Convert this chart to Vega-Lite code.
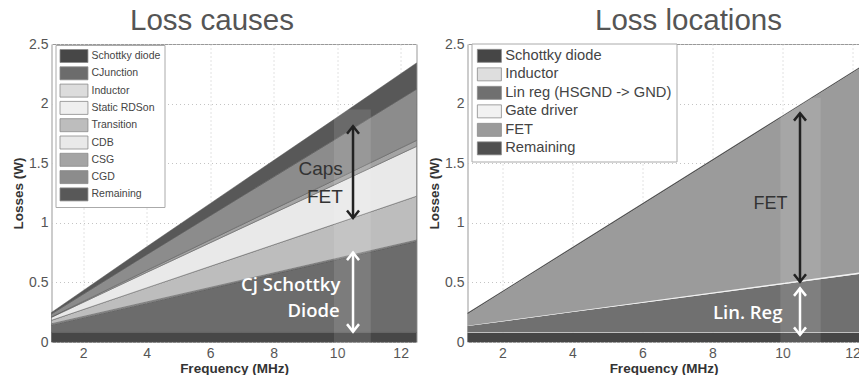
{
  "$schema": "https://vega.github.io/schema/vega-lite/v6.json",
  "background": "white",
  "padding": {"left": 10.5, "top": 5, "right": 0, "bottom": 0},
  "config": {
    "view": {"stroke": "#999", "strokeWidth": 1},
    "axis": {
      "labelFont": "Liberation Sans", "labelFontSize": 14, "labelColor": "#555",
      "titleFont": "Liberation Sans", "titleFontSize": 13.5, "titleFontWeight": "bold", "titleColor": "#333",
      "tickSize": 0, "domain": false, "grid": true, "gridColor": "#c4c4c4", "gridDash": [1, 3], "gridWidth": 1,
      "labelPadding": 3.5, "titlePadding": 3
    },
    "axisX": {"labelPadding": 4, "titlePadding": 1},
    "concat": {"spacing": 8}
  },
  "resolve": {"scale": {"color": "independent", "shape": "independent", "x": "independent", "y": "independent"}, "legend": {"color": "independent"}},
  "datasets": {
    "causes": [
      {"freq": 1, "source": "Schottky diode", "idx": 0, "loss": 0.08},
      {"freq": 1, "source": "CJunction", "idx": 1, "loss": 0.063},
      {"freq": 1, "source": "Inductor", "idx": 2, "loss": 0.004},
      {"freq": 1, "source": "Static RDSon", "idx": 3, "loss": 0.006},
      {"freq": 1, "source": "Transition", "idx": 4, "loss": 0.029},
      {"freq": 1, "source": "CDB", "idx": 5, "loss": 0.025},
      {"freq": 1, "source": "CSG", "idx": 6, "loss": 0.004},
      {"freq": 1, "source": "CGD", "idx": 7, "loss": 0.025},
      {"freq": 1, "source": "Remaining", "idx": 8, "loss": 0.012},
      {"freq": 4, "source": "Schottky diode", "idx": 0, "loss": 0.08},
      {"freq": 4, "source": "CJunction", "idx": 1, "loss": 0.246},
      {"freq": 4, "source": "Inductor", "idx": 2, "loss": 0.004},
      {"freq": 4, "source": "Static RDSon", "idx": 3, "loss": 0.006},
      {"freq": 4, "source": "Transition", "idx": 4, "loss": 0.118},
      {"freq": 4, "source": "CDB", "idx": 5, "loss": 0.13},
      {"freq": 4, "source": "CSG", "idx": 6, "loss": 0.016},
      {"freq": 4, "source": "CGD", "idx": 7, "loss": 0.133},
      {"freq": 4, "source": "Remaining", "idx": 8, "loss": 0.066},
      {"freq": 7, "source": "Schottky diode", "idx": 0, "loss": 0.08},
      {"freq": 7, "source": "CJunction", "idx": 1, "loss": 0.429},
      {"freq": 7, "source": "Inductor", "idx": 2, "loss": 0.004},
      {"freq": 7, "source": "Static RDSon", "idx": 3, "loss": 0.006},
      {"freq": 7, "source": "Transition", "idx": 4, "loss": 0.206},
      {"freq": 7, "source": "CDB", "idx": 5, "loss": 0.232},
      {"freq": 7, "source": "CSG", "idx": 6, "loss": 0.028},
      {"freq": 7, "source": "CGD", "idx": 7, "loss": 0.238},
      {"freq": 7, "source": "Remaining", "idx": 8, "loss": 0.12},
      {"freq": 10, "source": "Schottky diode", "idx": 0, "loss": 0.08},
      {"freq": 10, "source": "CJunction", "idx": 1, "loss": 0.612},
      {"freq": 10, "source": "Inductor", "idx": 2, "loss": 0.004},
      {"freq": 10, "source": "Static RDSon", "idx": 3, "loss": 0.006},
      {"freq": 10, "source": "Transition", "idx": 4, "loss": 0.294},
      {"freq": 10, "source": "CDB", "idx": 5, "loss": 0.333},
      {"freq": 10, "source": "CSG", "idx": 6, "loss": 0.04},
      {"freq": 10, "source": "CGD", "idx": 7, "loss": 0.342},
      {"freq": 10, "source": "Remaining", "idx": 8, "loss": 0.174},
      {"freq": 12.5, "source": "Schottky diode", "idx": 0, "loss": 0.08},
      {"freq": 12.5, "source": "CJunction", "idx": 1, "loss": 0.765},
      {"freq": 12.5, "source": "Inductor", "idx": 2, "loss": 0.004},
      {"freq": 12.5, "source": "Static RDSon", "idx": 3, "loss": 0.006},
      {"freq": 12.5, "source": "Transition", "idx": 4, "loss": 0.368},
      {"freq": 12.5, "source": "CDB", "idx": 5, "loss": 0.418},
      {"freq": 12.5, "source": "CSG", "idx": 6, "loss": 0.05},
      {"freq": 12.5, "source": "CGD", "idx": 7, "loss": 0.43},
      {"freq": 12.5, "source": "Remaining", "idx": 8, "loss": 0.22}
    ],
    "locations": [
      {"freq": 1, "source": "Schottky diode", "idx": 0, "loss": 0.08},
      {"freq": 1, "source": "Inductor", "idx": 1, "loss": 0.003},
      {"freq": 1, "source": "Lin reg (HSGND -> GND)", "idx": 2, "loss": 0.051},
      {"freq": 1, "source": "Gate driver", "idx": 3, "loss": 0.002},
      {"freq": 1, "source": "FET", "idx": 4, "loss": 0.097},
      {"freq": 1, "source": "Remaining", "idx": 5, "loss": 0.012},
      {"freq": 4, "source": "Schottky diode", "idx": 0, "loss": 0.08},
      {"freq": 4, "source": "Inductor", "idx": 1, "loss": 0.003},
      {"freq": 4, "source": "Lin reg (HSGND -> GND)", "idx": 2, "loss": 0.168},
      {"freq": 4, "source": "Gate driver", "idx": 3, "loss": 0.004},
      {"freq": 4, "source": "FET", "idx": 4, "loss": 0.53},
      {"freq": 4, "source": "Remaining", "idx": 5, "loss": 0.012},
      {"freq": 7, "source": "Schottky diode", "idx": 0, "loss": 0.08},
      {"freq": 7, "source": "Inductor", "idx": 1, "loss": 0.003},
      {"freq": 7, "source": "Lin reg (HSGND -> GND)", "idx": 2, "loss": 0.285},
      {"freq": 7, "source": "Gate driver", "idx": 3, "loss": 0.007},
      {"freq": 7, "source": "FET", "idx": 4, "loss": 0.962},
      {"freq": 7, "source": "Remaining", "idx": 5, "loss": 0.012},
      {"freq": 10, "source": "Schottky diode", "idx": 0, "loss": 0.08},
      {"freq": 10, "source": "Inductor", "idx": 1, "loss": 0.003},
      {"freq": 10, "source": "Lin reg (HSGND -> GND)", "idx": 2, "loss": 0.402},
      {"freq": 10, "source": "Gate driver", "idx": 3, "loss": 0.01},
      {"freq": 10, "source": "FET", "idx": 4, "loss": 1.394},
      {"freq": 10, "source": "Remaining", "idx": 5, "loss": 0.012},
      {"freq": 12.2, "source": "Schottky diode", "idx": 0, "loss": 0.08},
      {"freq": 12.2, "source": "Inductor", "idx": 1, "loss": 0.003},
      {"freq": 12.2, "source": "Lin reg (HSGND -> GND)", "idx": 2, "loss": 0.488},
      {"freq": 12.2, "source": "Gate driver", "idx": 3, "loss": 0.012},
      {"freq": 12.2, "source": "FET", "idx": 4, "loss": 1.711},
      {"freq": 12.2, "source": "Remaining", "idx": 5, "loss": 0.012}
    ],
    "bands": [
      {"panel": "causes", "freq": 9.9, "freqEnd": 11.06, "lo": -0.12, "hi": 1.95},
      {"panel": "locations", "freq": 9.94, "freqEnd": 11.09, "lo": -0.12, "hi": 2.05}
    ],
    "arrows": [
      {"panel": "causes", "tone": "dark", "freq": 10.5, "lo": 1.04, "hi": 1.81},
      {"panel": "causes", "tone": "light", "freq": 10.5, "lo": 0.087, "hi": 0.75},
      {"panel": "locations", "tone": "dark", "freq": 10.5, "lo": 0.505, "hi": 1.92},
      {"panel": "locations", "tone": "light", "freq": 10.5, "lo": 0.06, "hi": 0.45}
    ],
    "notes": [
      {"panel": "causes", "tone": "dark", "freq": 10.18, "loss": 1.45, "label": "Caps"},
      {"panel": "causes", "tone": "dark", "freq": 10.18, "loss": 1.22, "label": "FET"},
      {"panel": "causes", "tone": "light", "freq": 10.1, "loss": 0.48, "label": "Cj Schottky"},
      {"panel": "causes", "tone": "light", "freq": 10.08, "loss": 0.26, "label": "Diode"},
      {"panel": "locations", "tone": "dark", "freq": 10.14, "loss": 1.16, "label": "FET"},
      {"panel": "locations", "tone": "light", "freq": 10.0, "loss": 0.24, "label": "Lin. Reg"}
    ]
  },
  "hconcat": [
    {
      "width": 365,
      "height": 298,
      "title": {"text": "Loss causes", "font": "Liberation Sans", "fontSize": 29.5, "fontWeight": "normal", "color": "#555", "dx": -22, "offset": 1},
      "resolve": {"scale": {"shape": "shared"}},
      "layer": [
        {
          "data": {"name": "causes"},
          "mark": {"type": "area", "stroke": "#555", "strokeWidth": 0.5, "opacity": 1},
          "encoding": {
            "x": {"field": "freq", "type": "quantitative", "scale": {"domain": [1, 12.5], "nice": false, "zero": false}, "axis": {"values": [2, 4, 6, 8, 10, 12], "title": "Frequency (MHz)"}},
            "y": {"field": "loss", "type": "quantitative", "stack": "zero", "scale": {"domain": [0, 2.5], "nice": false}, "axis": {"values": [0, 0.5, 1, 1.5, 2, 2.5], "format": "~g", "title": "Losses (W)"}},
            "color": {
              "field": "source", "type": "nominal",
              "scale": {
                "domain": ["Schottky diode", "CJunction", "Inductor", "Static RDSon", "Transition", "CDB", "CSG", "CGD", "Remaining"],
                "range": ["#474747", "#6c6c6c", "#dcdcdc", "#efefef", "#bdbdbd", "#e9e9e9", "#a4a4a4", "#8c8c8c", "#585858"]
              },
              "legend": {
                "title": null, "orient": "none", "legendX": 4, "legendY": 1,
                "symbolType": "M-1,-1H3.3V1H-1Z", "symbolSize": 169,
                "symbolStrokeColor": "#8a8a8a", "symbolStrokeWidth": 0.8, "symbolOpacity": 1,
                "labelFont": "Liberation Sans", "labelFontSize": 10.5, "labelColor": "#444",
                "labelOffset": 18, "rowPadding": -0.7, "padding": 4,
                "strokeColor": "#aaa", "fillColor": "white", "labelLimit": 200
              }
            },
            "order": {"field": "idx", "type": "quantitative", "sort": "ascending"}
          }
        },
        {
          "data": {"name": "bands"},
          "transform": [{"filter": "datum.panel == 'causes'"}],
          "mark": {"type": "rect", "color": "white", "opacity": 0.11},
          "encoding": {
            "x": {"field": "freq", "type": "quantitative", "axis": {"title": "Frequency (MHz)"}},
            "x2": {"field": "freqEnd"},
            "y": {"field": "lo", "type": "quantitative", "axis": {"title": "Losses (W)"}},
            "y2": {"field": "hi"}
          }
        },
        {
          "data": {"name": "arrows"},
          "transform": [{"filter": "datum.panel == 'causes' && datum.tone == 'dark'"}],
          "mark": {"type": "rule", "color": "#222", "strokeWidth": 2.5},
          "encoding": {
            "x": {"field": "freq", "type": "quantitative", "axis": {"title": "Frequency (MHz)"}},
            "y": {"field": "lo", "type": "quantitative", "axis": {"title": "Losses (W)"}},
            "y2": {"field": "hi"}
          }
        },
        {
          "data": {"name": "arrows"},
          "transform": [{"filter": "datum.panel == 'causes' && datum.tone == 'light'"}],
          "mark": {"type": "rule", "color": "white", "strokeWidth": 2.5},
          "encoding": {
            "x": {"field": "freq", "type": "quantitative", "axis": {"title": "Frequency (MHz)"}},
            "y": {"field": "lo", "type": "quantitative", "axis": {"title": "Losses (W)"}},
            "y2": {"field": "hi"}
          }
        },
        {
          "data": {"name": "arrows"},
          "transform": [{"filter": "datum.panel == 'causes' && datum.tone == 'dark'"}, {"fold": ["lo", "hi"], "as": ["end", "val"]}],
          "mark": {"type": "point", "filled": false, "color": "#222", "strokeWidth": 2.5, "size": 400, "opacity": 1},
          "encoding": {
            "x": {"field": "freq", "type": "quantitative", "axis": {"title": "Frequency (MHz)"}},
            "y": {"field": "val", "type": "quantitative", "axis": {"title": "Losses (W)"}},
            "shape": {"field": "end", "type": "nominal", "scale": {"domain": ["hi", "lo"], "range": ["M-0.6,0.75L0,0L0.6,0.75", "M-0.6,-0.75L0,0L0.6,-0.75"]}, "legend": null}
          }
        },
        {
          "data": {"name": "arrows"},
          "transform": [{"filter": "datum.panel == 'causes' && datum.tone == 'light'"}, {"fold": ["lo", "hi"], "as": ["end", "val"]}],
          "mark": {"type": "point", "filled": false, "color": "white", "strokeWidth": 2.5, "size": 400, "opacity": 1},
          "encoding": {
            "x": {"field": "freq", "type": "quantitative", "axis": {"title": "Frequency (MHz)"}},
            "y": {"field": "val", "type": "quantitative", "axis": {"title": "Losses (W)"}},
            "shape": {"field": "end", "type": "nominal", "scale": {"domain": ["hi", "lo"], "range": ["M-0.6,0.75L0,0L0.6,0.75", "M-0.6,-0.75L0,0L0.6,-0.75"]}, "legend": null}
          }
        },
        {
          "data": {"name": "notes"},
          "transform": [{"filter": "datum.panel == 'causes' && datum.tone == 'dark'"}],
          "mark": {"type": "text", "align": "right", "baseline": "middle", "font": "Liberation Sans", "fontSize": 19, "color": "#333"},
          "encoding": {
            "x": {"field": "freq", "type": "quantitative", "axis": {"title": "Frequency (MHz)"}},
            "y": {"field": "loss", "type": "quantitative", "axis": {"title": "Losses (W)"}},
            "text": {"field": "label"}
          }
        },
        {
          "data": {"name": "notes"},
          "transform": [{"filter": "datum.panel == 'causes' && datum.tone == 'light'"}],
          "mark": {"type": "text", "align": "right", "baseline": "middle", "font": "Open Sans", "fontSize": 18.5, "fontWeight": 600, "color": "white"},
          "encoding": {
            "x": {"field": "freq", "type": "quantitative", "axis": {"title": "Frequency (MHz)"}},
            "y": {"field": "loss", "type": "quantitative", "axis": {"title": "Losses (W)"}},
            "text": {"field": "label"}
          }
        }
      ]
    },
    {
      "width": 392,
      "height": 298,
      "title": {"text": "Loss locations", "font": "Liberation Sans", "fontSize": 29.5, "fontWeight": "normal", "color": "#555", "dx": 25, "offset": 1},
      "resolve": {"scale": {"shape": "shared"}},
      "layer": [
        {
          "data": {"name": "locations"},
          "mark": {"type": "area", "opacity": 1},
          "encoding": {
            "x": {"field": "freq", "type": "quantitative", "scale": {"domain": [1, 12.2], "nice": false, "zero": false}, "axis": {"values": [2, 4, 6, 8, 10, 12], "title": "Frequency (MHz)"}},
            "y": {"field": "loss", "type": "quantitative", "stack": "zero", "scale": {"domain": [0, 2.5], "nice": false}, "axis": {"values": [0, 0.5, 1, 1.5, 2, 2.5], "format": "~g", "title": "Losses (W)"}},
            "color": {
              "field": "source", "type": "nominal",
              "scale": {
                "domain": ["Schottky diode", "Inductor", "Lin reg (HSGND -> GND)", "Gate driver", "FET", "Remaining"],
                "range": ["#464646", "#dedede", "#707070", "#f2f2f2", "#9b9b9b", "#505050"]
              },
              "legend": {
                "title": null, "orient": "none", "legendX": 4, "legendY": -0.5,
                "symbolType": "M-1,-1H2.7V1H-1Z", "symbolSize": 169,
                "symbolStrokeColor": "#8a8a8a", "symbolStrokeWidth": 0.8, "symbolOpacity": 1,
                "labelFont": "Liberation Sans", "labelFontSize": 14.7, "labelColor": "#444",
                "labelOffset": 14, "rowPadding": 1.5, "padding": 5,
                "strokeColor": "#aaa", "fillColor": "white", "labelLimit": 300
              }
            },
            "order": {"field": "idx", "type": "quantitative", "sort": "ascending"}
          }
        },
        {
          "data": {"name": "bands"},
          "transform": [{"filter": "datum.panel == 'locations'"}],
          "mark": {"type": "rect", "color": "white", "opacity": 0.11},
          "encoding": {
            "x": {"field": "freq", "type": "quantitative", "axis": {"title": "Frequency (MHz)"}},
            "x2": {"field": "freqEnd"},
            "y": {"field": "lo", "type": "quantitative", "axis": {"title": "Losses (W)"}},
            "y2": {"field": "hi"}
          }
        },
        {
          "data": {"name": "arrows"},
          "transform": [{"filter": "datum.panel == 'locations' && datum.tone == 'dark'"}],
          "mark": {"type": "rule", "color": "#222", "strokeWidth": 2.5},
          "encoding": {
            "x": {"field": "freq", "type": "quantitative", "axis": {"title": "Frequency (MHz)"}},
            "y": {"field": "lo", "type": "quantitative", "axis": {"title": "Losses (W)"}},
            "y2": {"field": "hi"}
          }
        },
        {
          "data": {"name": "arrows"},
          "transform": [{"filter": "datum.panel == 'locations' && datum.tone == 'light'"}],
          "mark": {"type": "rule", "color": "white", "strokeWidth": 2.5},
          "encoding": {
            "x": {"field": "freq", "type": "quantitative", "axis": {"title": "Frequency (MHz)"}},
            "y": {"field": "lo", "type": "quantitative", "axis": {"title": "Losses (W)"}},
            "y2": {"field": "hi"}
          }
        },
        {
          "data": {"name": "arrows"},
          "transform": [{"filter": "datum.panel == 'locations' && datum.tone == 'dark'"}, {"fold": ["lo", "hi"], "as": ["end", "val"]}],
          "mark": {"type": "point", "filled": false, "color": "#222", "strokeWidth": 2.5, "size": 400, "opacity": 1},
          "encoding": {
            "x": {"field": "freq", "type": "quantitative", "axis": {"title": "Frequency (MHz)"}},
            "y": {"field": "val", "type": "quantitative", "axis": {"title": "Losses (W)"}},
            "shape": {"field": "end", "type": "nominal", "scale": {"domain": ["hi", "lo"], "range": ["M-0.6,0.75L0,0L0.6,0.75", "M-0.6,-0.75L0,0L0.6,-0.75"]}, "legend": null}
          }
        },
        {
          "data": {"name": "arrows"},
          "transform": [{"filter": "datum.panel == 'locations' && datum.tone == 'light'"}, {"fold": ["lo", "hi"], "as": ["end", "val"]}],
          "mark": {"type": "point", "filled": false, "color": "white", "strokeWidth": 2.5, "size": 400, "opacity": 1},
          "encoding": {
            "x": {"field": "freq", "type": "quantitative", "axis": {"title": "Frequency (MHz)"}},
            "y": {"field": "val", "type": "quantitative", "axis": {"title": "Losses (W)"}},
            "shape": {"field": "end", "type": "nominal", "scale": {"domain": ["hi", "lo"], "range": ["M-0.6,0.75L0,0L0.6,0.75", "M-0.6,-0.75L0,0L0.6,-0.75"]}, "legend": null}
          }
        },
        {
          "data": {"name": "notes"},
          "transform": [{"filter": "datum.panel == 'locations' && datum.tone == 'dark'"}],
          "mark": {"type": "text", "align": "right", "baseline": "middle", "font": "Liberation Sans", "fontSize": 18, "color": "#333"},
          "encoding": {
            "x": {"field": "freq", "type": "quantitative", "axis": {"title": "Frequency (MHz)"}},
            "y": {"field": "loss", "type": "quantitative", "axis": {"title": "Losses (W)"}},
            "text": {"field": "label"}
          }
        },
        {
          "data": {"name": "notes"},
          "transform": [{"filter": "datum.panel == 'locations' && datum.tone == 'light'"}],
          "mark": {"type": "text", "align": "right", "baseline": "middle", "font": "Open Sans", "fontSize": 18.5, "fontWeight": 600, "color": "white"},
          "encoding": {
            "x": {"field": "freq", "type": "quantitative", "axis": {"title": "Frequency (MHz)"}},
            "y": {"field": "loss", "type": "quantitative", "axis": {"title": "Losses (W)"}},
            "text": {"field": "label"}
          }
        }
      ]
    }
  ]
}
